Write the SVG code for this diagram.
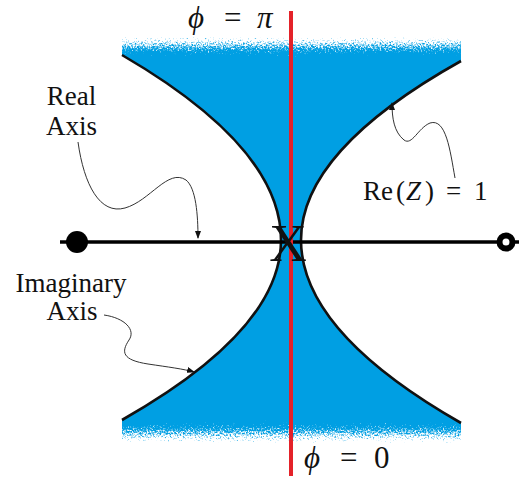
<svg xmlns="http://www.w3.org/2000/svg" width="527" height="477" viewBox="0 0 527 477">
<style>
.t{font-family:"Liberation Serif","Times New Roman",serif;fill:#111}
.conn{fill:none;stroke:#333;stroke-width:1}
.edge{fill:none;stroke:#111;stroke-width:2.6}
</style>
<defs>
<linearGradient id="gTop" x1="0" y1="0" x2="0" y2="1"><stop offset="0" stop-color="#000" stop-opacity="1"/><stop offset="1" stop-color="#000" stop-opacity="0"/></linearGradient>
<linearGradient id="gBot" x1="0" y1="0" x2="0" y2="1"><stop offset="0" stop-color="#000" stop-opacity="0"/><stop offset="1" stop-color="#000" stop-opacity="1"/></linearGradient>
<filter id="fuzz" x="0" y="0" width="1" height="1" color-interpolation-filters="sRGB">
<feTurbulence type="fractalNoise" baseFrequency="0.6" numOctaves="2" seed="7" result="n"/>
<feColorMatrix in="n" type="matrix" values="0 0 0 0 0 0 0 0 0 0 0 0 0 0 0 1 0 0 0 0" result="na"/>
<feComposite in="na" in2="SourceAlpha" operator="arithmetic" k1="0" k2="1" k3="1" k4="-0.5" result="s"/>
<feComponentTransfer in="s" result="th"><feFuncA type="linear" slope="3" intercept="-1"/></feComponentTransfer>
<feFlood flood-color="#ffffff" result="w"/>
<feComposite in="w" in2="th" operator="in"/>
</filter>
<marker id="ah" markerWidth="8" markerHeight="6" refX="7" refY="3" orient="auto" markerUnits="userSpaceOnUse"><path d="M0,0 L8,3 L0,6 Z" fill="#111"/></marker>
</defs>
<rect width="527" height="477" fill="#fff"/>
<g id="region">
<path d="M122,37 H461 V61 Q301,150.5 301,240 Q301,331.5 461,423 V443 H122 V420 Q281,330 281,240 Q281,147.5 122,55 Z" fill="#009FE3"/>
<rect x="120" y="34" width="343" height="24" fill="url(#gTop)" filter="url(#fuzz)"/>
<rect x="120" y="420" width="343" height="26" fill="url(#gBot)" filter="url(#fuzz)"/>
<path class="edge" d="M122,55 Q281,147.5 281,240 Q281,330 122,420"/>
<path class="edge" d="M461,61 Q301,150.5 301,240 Q301,331.5 461,423"/>
</g>
<g id="real-axis-line">
<line x1="60" y1="242" x2="519" y2="242" stroke="#000" stroke-width="3.5"/>
<circle cx="77" cy="242" r="11" fill="#000"/>
<circle cx="506" cy="242" r="6.5" fill="#fff" stroke="#000" stroke-width="6"/>
</g>
<g id="phi-line">
<line x1="291" y1="11" x2="291" y2="476" stroke="#E42229" stroke-width="4"/>
</g>
<g id="x-label"><text class="t" x="288" y="261" font-size="52" text-anchor="middle">X</text></g>
<g id="phi-pi"><text class="t" y="28" font-size="31"><tspan x="188" font-style="italic">ϕ</tspan><tspan x="224">=</tspan><tspan x="257" font-style="italic">π</tspan></text></g>
<g id="phi-zero"><text class="t" y="468" font-size="31"><tspan x="304" font-style="italic">ϕ</tspan><tspan x="340">=</tspan><tspan x="374">0</tspan></text></g>
<g id="real-label"><text class="t" font-size="27" text-anchor="middle"><tspan x="71.5" y="105">Real</tspan><tspan x="71.5" y="135">Axis</tspan></text></g>
<g id="imag-label"><text class="t" font-size="27" text-anchor="middle"><tspan x="71" y="292">Imaginary</tspan><tspan x="72" y="320">Axis</tspan></text></g>
<g id="re-label"><text class="t" y="200" font-size="27"><tspan x="363">Re</tspan><tspan x="396">(</tspan><tspan x="406" font-style="italic">Z</tspan><tspan x="425">)</tspan><tspan x="446">=</tspan><tspan x="474">1</tspan></text></g>
<g id="connectors">
<path class="conn" marker-end="url(#ah)" d="M78,142 C84,185 100,215 125,208 C150,201 168,168 186,180 C196,188 198,215 198,238"/>
<path class="conn" marker-end="url(#ah)" d="M455,178 C450,150 446,118 430,123 C418,128 412,146 404,140 C394,132 392,118 392,103"/>
<path class="conn" marker-end="url(#ah)" d="M104,315 C125,318 136,330 129,340 C121,352 122,360 148,364 C168,367 184,369 194,372"/>
</g>
</svg>
